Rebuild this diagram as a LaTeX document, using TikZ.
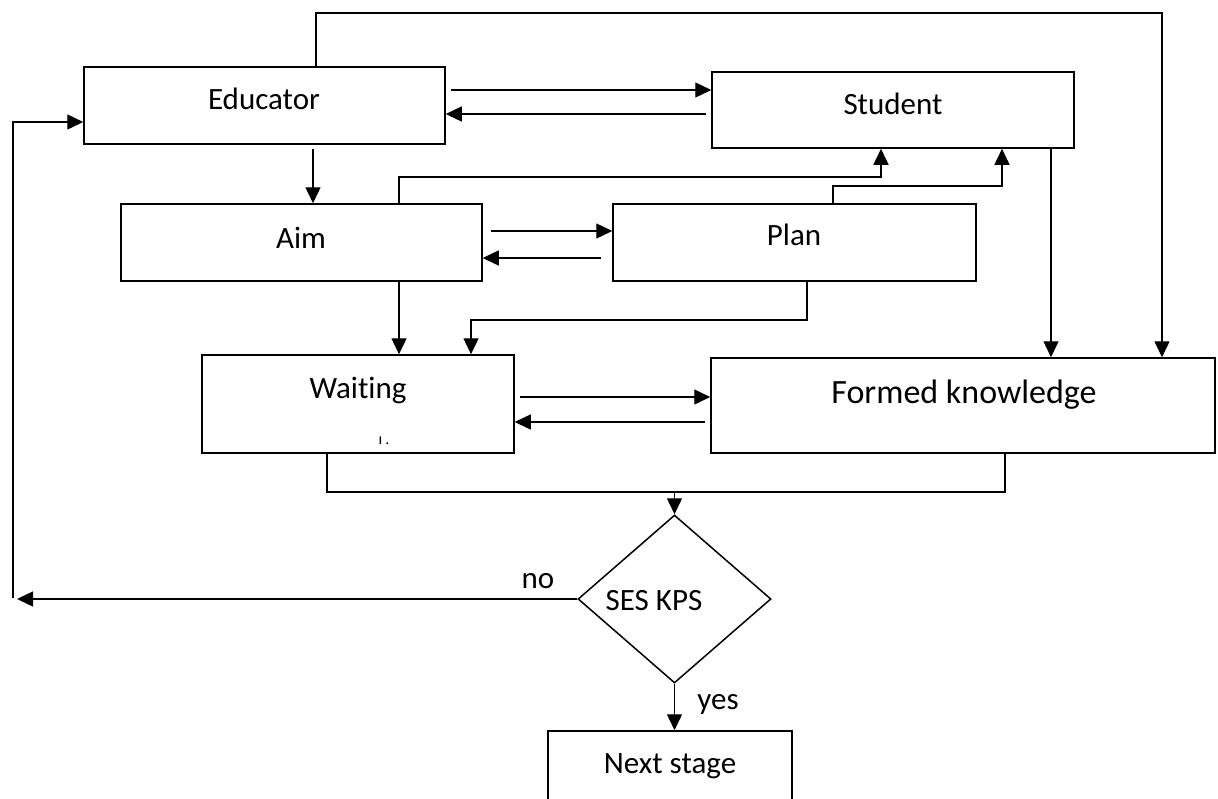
\documentclass[tikz,border=0pt]{standalone}
\usepackage{fontspec}
\setmainfont{Carlito}[Ligatures=NoCommon]
\usetikzlibrary{arrows.meta,shapes.geometric}
\tikzset{
  box/.style={draw, line width=1.5pt, inner sep=0pt},
  txt/.style={inner sep=0pt, text height=22pt, text depth=0pt, font=\fontsize{31}{36}\selectfont},
  conn/.style={line width=1.4pt},
  arr/.style={conn, -{Triangle[length=16pt,width=15pt]}},
}
\begin{document}
\begin{tikzpicture}[x=1pt,y=-1pt]
\useasboundingbox (0,0) rectangle (1218,798);
\fill[white] (0,0) rectangle (1218,798);
\clip (0,0) rectangle (1218,798);

% boxes
\node[box, minimum width=361, minimum height=77] (edu) at (264.5,105.5) {};
\node[box, minimum width=362, minimum height=76] (stu) at (893,110) {};
\node[box, minimum width=361, minimum height=77] (aim) at (301.5,242.5) {};
\node[box, minimum width=363, minimum height=77] (plan) at (794.5,242.5) {};
\node[box, minimum width=312, minimum height=98] (wait) at (358,404) {};
\node[box, minimum width=504, minimum height=95] (form) at (963,405.5) {};
\node[box, shape=diamond, minimum width=193, minimum height=168] (dia) at (674.5,599) {};
\node[box, minimum width=244, minimum height=110] (next) at (670,786) {};

% texts
\node[txt] (edut) at (264,98) {Educator};
\node[txt] (stut) at (893,103) {Student};
\node[txt] (aimt) at (301,237) {Aim};
\node[txt] (plant) at (794,234) {Plan};
\node[txt] (waitt) at (358,387) {Waiting};
\node[txt, font=\fontsize{34}{40}\selectfont] (formt) at (964,392) {Formed knowledge};
\node[inner sep=0pt, font=\fontsize{16}{16}\selectfont] (wmark) at (384,441) {ı\kern3pt.};
\node[txt] (diat) at (654,599) {SES KPS};
\node[txt] (nextt) at (670,762) {Next stage};
\node[txt] (nol) at (538,577) {no};
\node[txt] (yesl) at (718,698) {yes};

% coordinates
\coordinate (fbtop) at (13,122);
\coordinate (fbbot) at (13,598);
\coordinate (noend) at (17,599);
\coordinate (junc) at (674.5,492);

% connectors
\draw[arr] (edu.north -| 316,0) -- (316,13) -- (1162,13) -- (form.north -| 1162,0);
\draw[arr] ([xshift=5pt]edu.east |- 0,90) -- (stu.west |- 0,90);
\draw[arr] ([xshift=-5pt]stu.west |- 0,114) -- (edu.east |- 0,114);
\draw[arr] ([yshift=-4pt]edu.south -| 313,0) -- (aim.north -| 313,0);
\draw[arr] (aim.north -| 399,0) -- (399,177) -- (881,177) -- (stu.south -| 881,0);
\draw[arr] (plan.north -| 833,0) -- (833,186) -- (1002,186) -- (stu.south -| 1002,0);
\draw[arr] ([xshift=8pt]aim.east |- 0,231) -- (plan.west |- 0,231);
\draw[arr] ([xshift=-11pt]plan.west |- 0,258) -- (aim.east |- 0,258);
\draw[arr] (aim.south -| 399,0) -- (wait.north -| 399,0);
\draw[arr] (plan.south -| 807,0) -- (807,320) -- (471,320) -- (wait.north -| 471,0);
\draw[arr] (stu.south -| 1051,0) -- (form.north -| 1051,0);
\draw[arr] ([xshift=5pt]wait.east |- 0,397) -- (form.west |- 0,397);
\draw[arr] ([xshift=-5pt]form.west |- 0,422) -- (wait.east |- 0,422);
\draw[conn] (wait.south -| 327,0) -- (327,492) -- (1005,492) -- (form.south -| 1005,0);
\draw[arr] (junc) -- (dia.north);
\draw[arr] (dia.west) -- (noend);
\draw[arr] (fbbot) -- (fbtop) -- (edu.west |- fbtop);
\draw[arr] (dia.south) -- (dia.south |- next.north);
\end{tikzpicture}
\end{document}
